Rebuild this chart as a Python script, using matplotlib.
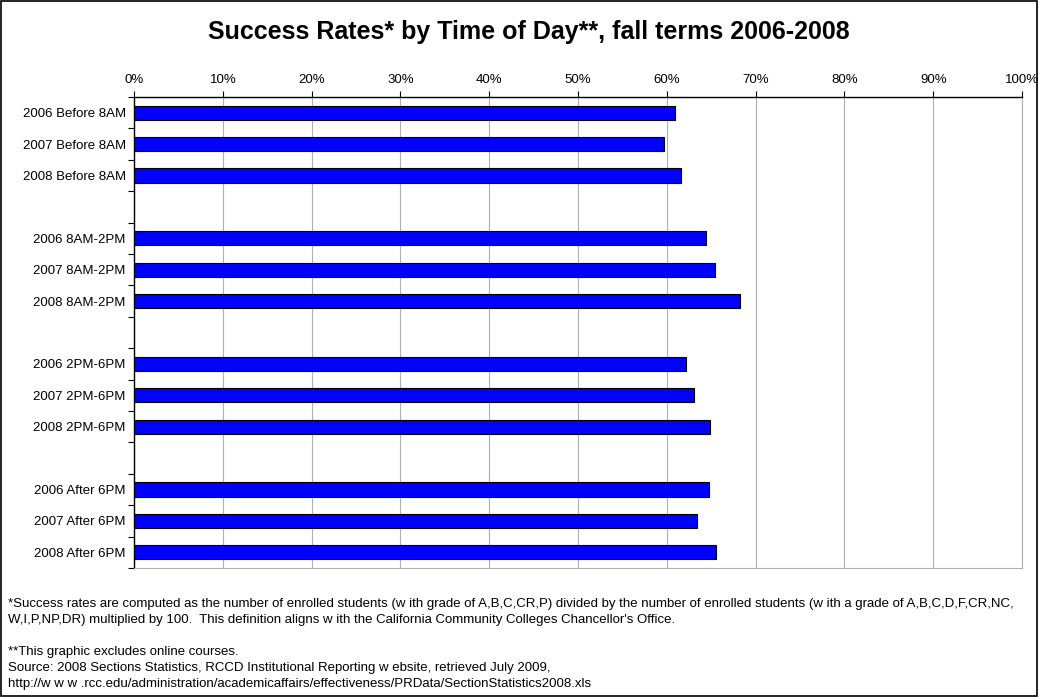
import numpy as np
import matplotlib
matplotlib.use("Agg")
import matplotlib.pyplot as plt
from matplotlib.patches import Rectangle
from matplotlib.ticker import FixedLocator

plt.rcParams['font.family'] = ['Liberation Sans', 'DejaVu Sans']

# success rate (%) per term and time slot
years = ["2006", "2007", "2008"]
slots = ["Before 8AM", "8AM-2PM", "2PM-6PM", "After 6PM"]
rates = [
    [60.9, 59.7, 61.6],   # Before 8AM
    [64.4, 65.4, 68.2],   # 8AM-2PM
    [62.2, 63.1, 64.9],   # 2PM-6PM
    [64.8, 63.4, 65.5],   # After 6PM
]
x_ticks = [0, 10, 20, 30, 40, 50, 60, 70, 80, 90, 100]

footnotes = [
    "*Success rates are computed as the number of enrolled students (w ith grade of A,B,C,CR,P) divided by the number of enrolled students (w ith a grade of A,B,C,D,F,CR,NC,",
    "W,I,P,NP,DR) multiplied by 100.  This definition aligns w ith the California Community Colleges Chancellor's Office.",
    "",
    "**This graphic excludes online courses.",
    "Source: 2008 Sections Statistics, RCCD Institutional Reporting w ebsite, retrieved July 2009,",
    "http://w w w .rcc.edu/administration/academicaffairs/effectiveness/PRData/SectionStatistics2008.xls",
]

# one row per bar, an empty row between slot groups
labels, values, pos = [], [], []
row = 0
for si, slot in enumerate(slots):
    for yi, year in enumerate(years):
        labels.append(year + " " + slot)
        values.append(rates[si][yi])
        pos.append(row)
        row += 1
    row += 1
n_rows = row - 1

fig = plt.figure(figsize=(10.39, 6.97), dpi=100)
ax = fig.add_axes([0.129, 0.185, 0.8547, 0.6758])

ax.barh(pos, values, height=0.45, color="#0000FF", edgecolor="black", linewidth=0.8, zorder=3)

ax.set_xlim(0, 100)
ax.set_ylim(n_rows - 0.5, -0.5)

ax.xaxis.tick_top()
ax.set_xticks(x_ticks)
ax.set_xticklabels([f"{t}%" for t in x_ticks], fontsize=9.5)
ax.tick_params(axis="x", direction="out", length=4, width=0.8, pad=4)
ax.grid(axis="x", color="#B0B0B0", linewidth=0.8, zorder=0)

ax.set_yticks(pos)
ax.set_yticklabels(labels, fontsize=9.5)
ax.tick_params(axis="y", which="major", length=0, pad=6)
ax.yaxis.set_minor_locator(FixedLocator(np.arange(-0.5, n_rows, 1.0)))
ax.tick_params(axis="y", which="minor", direction="out", length=4, width=0.8)

ax.spines["left"].set_linewidth(1.0)
ax.spines["top"].set_linewidth(1.0)
ax.spines["right"].set_color("#B0B0B0")
ax.spines["bottom"].set_color("#B0B0B0")
ax.spines["right"].set_linewidth(0.8)
ax.spines["bottom"].set_linewidth(0.8)

fig.text(0.509, 0.954, "Success Rates* by Time of Day**, fall terms 2006-2008",
         ha="center", va="center", fontsize=18, fontweight="bold")

y0 = 1 - 604 / 697
for i, line in enumerate(footnotes):
    fig.text(0.008, y0 - i * 16 / 697, line, ha="left", va="center", fontsize=9.5)

fig.patches.append(Rectangle((0.001, 0.002), 0.997, 0.996, transform=fig.transFigure,
                             fill=False, edgecolor="black", linewidth=1.2))

fig.savefig("out.png", dpi=100)
